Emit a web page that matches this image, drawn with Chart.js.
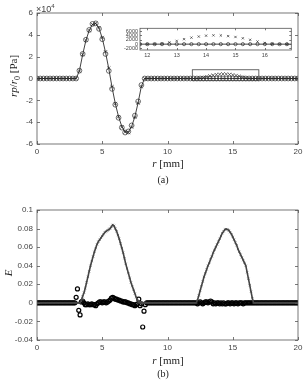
<!DOCTYPE html>
<html>
<head>
<meta charset="utf-8">
<script src="https://cdn.jsdelivr.net/npm/chart.js@4.4.0/dist/chart.umd.min.js"></script>
<style>
body { margin: 0; background: #fff; width: 307px; height: 381px; position: relative; overflow: hidden; font-family: "Liberation Serif", serif; color: #222; }
canvas { position: absolute; }
.t { position: absolute; white-space: nowrap; font-size: 11px; line-height: 1; }
.s { position: absolute; white-space: nowrap; font-family: "Liberation Sans", sans-serif; color: #444; line-height: 1; }
</style>
</head>
<body>
<canvas id="cA" width="307" height="190" style="left:0;top:0"></canvas>
<canvas id="cIn" width="184" height="38" style="left:112px;top:23px"></canvas>
<canvas id="cB" width="307" height="191" style="left:0;top:190px"></canvas>

<div class="s" style="left:36px;top:3px;font-size:9px">×10<sup style="font-size:6px;vertical-align:4px">4</sup></div>
<div class="t" style="left:15px;top:76px;transform:translate(-50%,-50%) rotate(-90deg)"><i>rp</i>/<i>r</i><sub style="font-size:8px">0</sub> [Pa]</div>
<div class="t" style="left:168px;top:163px;transform:translate(-50%,-50%)"><i>r</i> [mm]</div>
<div class="t" style="left:163px;top:180px;transform:translate(-50%,-50%);font-size:10px">(a)</div>
<div class="t" style="left:8px;top:273px;transform:translate(-50%,-50%) rotate(-90deg)"><i>E</i></div>
<div class="t" style="left:168px;top:360px;transform:translate(-50%,-50%)"><i>r</i> [mm]</div>
<div class="t" style="left:163px;top:374px;transform:translate(-50%,-50%);font-size:10px">(b)</div>

<script>
// (a) pressure, r step 0.25 mm, 0..20
const stepA = 0.25;
const pLine = [
    0, 0, 0, 0, 0, 0, 0, 0,
    0, 0, 0, 0, 0, 7000, 22000, 35000,
    44000, 49500, 50500, 46000, 37000, 24000, 9000, -8000,
    -23000, -35000, -44000, -49000, -49000, -44000, -35000, -22000,
    -7000, 0, 0, 0, 0, 0, 0, 0,
    0, 0, 0, 0, 0, 0, 0, 0,
    0, 0, 0, 0, 0, 0, 0, 0,
    0, 0, 0, 0, 0, 0, 0, 0,
    0, 0, 0, 0, 0, 0, 0, 0,
    0, 0, 0, 0, 0, 0, 0, 0,
    0
];
const pCirc = [
    0, 0, 0, 0, 0, 0, 0, 0,
    0, 0, 0, 0, 0, 7200, 22500, 35500,
    44500, 50000, 50500, 45500, 36000, 22500, 7000, -9500,
    -24000, -36000, -45000, -49500, -48500, -43000, -34000, -21000,
    -6000, 0, 0, 0, 0, 0, 0, 0,
    0, 0, 0, 0, 0, 0, 0, 0,
    0, 0, 0, 0, 0, 0, 0, 0,
    0, 0, 0, 0, 0, 0, 0, 0,
    0, 0, 0, 0, 0, 0, 0, 0,
    0, 0, 0, 0, 0, 0, 0, 0,
    0
];
const pCross = [
    0, 0, 0, 0, 0, 0, 0, 0,
    0, 0, 0, 0, 0, 6800, 22000, 35000,
    44000, 49500, 50500, 46500, 37500, 24500, 9500, -7500,
    -23000, -35000, -44500, -49000, -49500, -44500, -35500, -22500,
    -7500, 0, 0, 0, 0, 0, 0, 0,
    0, 0, 0, 0, 0, 0, 0, 0,
    0, 100, 300, 800, 1500, 2300, 3000, 3500,
    3900, 4050, 4000, 3700, 3300, 2700, 2000, 1200,
    500, 150, 0, 0, 0, 0, 0, 0,
    0, 0, 0, 0, 0, 0, 0, 0,
    0
];
const ticksA = [-60000, -40000, -20000, 0, 20000, 40000, 60000];
const ticksR = [0, 5, 10, 15, 20];
const insetX = [12, 13, 14, 15, 16];
const insetY = [-2000, 0, 2000, 4000, 6000];
const zoomBox = [11.9, 17.0, -2000, 8000];

// (b) energy, r step 0.1 mm, 0..20
const stepB = 0.1;
const eCross = [
    0, 0, 0, 0, 0, 0, 0, 0, 0, 0,
    0, 0, 0, 0, 0, 0, 0, 0, 0, 0,
    0, 0, 0, 0, 0, 0, 0, 0, 0, 0,
    0, 0, 0, 0, 0.003, 0.007, 0.011, 0.016, 0.022, 0.028,
    0.034, 0.040, 0.045, 0.050, 0.055, 0.059, 0.063, 0.066, 0.068, 0.070,
    0.072, 0.074, 0.076, 0.077, 0.078, 0.079, 0.080, 0.082, 0.084, 0.083,
    0.080, 0.077, 0.073, 0.069, 0.064, 0.059, 0.054, 0.048, 0.042, 0.037,
    0.032, 0.027, 0.022, 0.018, 0.014, 0.010, 0.006, 0.003, 0.001, 0,
    0, 0, 0, 0, 0, 0, 0, 0, 0, 0,
    0, 0, 0, 0, 0, 0, 0, 0, 0, 0,
    0, 0, 0, 0, 0, 0, 0, 0, 0, 0,
    0, 0, 0, 0, 0, 0, 0, 0, 0, 0,
    0, 0, 0, 0.003, 0.008, 0.013, 0.018, 0.023, 0.028, 0.032,
    0.036, 0.040, 0.043, 0.047, 0.050, 0.054, 0.057, 0.060, 0.063, 0.066,
    0.069, 0.072, 0.075, 0.077, 0.079, 0.0795, 0.079, 0.078, 0.076, 0.074,
    0.071, 0.068, 0.065, 0.062, 0.058, 0.055, 0.052, 0.049, 0.046, 0.043,
    0.040, 0.033, 0.026, 0.019, 0.012, 0.005, 0, 0, 0, 0,
    0, 0, 0, 0, 0, 0, 0, 0, 0, 0,
    0, 0, 0, 0, 0, 0, 0, 0, 0, 0,
    0, 0, 0, 0, 0, 0, 0, 0, 0, 0,
    0
];
const eCirc = [
    0, 0, 0, 0, 0, 0, 0, 0, 0, 0,
    0, 0, 0, 0, 0, 0, 0, 0, 0, 0,
    0, 0, 0, 0, 0, 0, 0, 0, 0, 0,
    0.006, 0.015, -0.008, -0.013, 0.001, 0.002, 0, -0.002, -0.002, -0.001,
    -0.002, -0.002, -0.001, -0.002, -0.002, -0.003, -0.001, 0, 0.001, 0.001,
    0, 0.001, 0.001, 0, 0.001, 0.002, 0.003, 0.005, 0.006, 0.005,
    0.004, 0.004, 0.003, 0.003, 0.002, 0.002, 0.001, 0.001, 0.001, 0,
    0, -0.001, -0.001, -0.002, -0.002, -0.003, -0.002, -0.001, 0.004, -0.003,
    -0.001, -0.026, -0.009, -0.002, 0, 0, 0, 0, 0, 0,
    0, 0, 0, 0, 0, 0, 0, 0, 0, 0,
    0, 0, 0, 0, 0, 0, 0, 0, 0, 0,
    0, 0, 0, 0, 0, 0, 0, 0, 0, 0,
    0, 0, 0, -0.001, 0, 0.001, 0, -0.001, 0, 0.001,
    0.001, 0, 0.001, 0.002, 0.001, -0.001, 0, -0.001, 0, 0,
    -0.001, 0, -0.001, 0, -0.001, -0.001, 0, 0, -0.001, 0,
    0, -0.001, 0, 0, -0.001, 0, 0, 0, -0.001, 0,
    0, 0, 0, 0, 0, 0, 0, 0, 0, 0,
    0, 0, 0, 0, 0, 0, 0, 0, 0, 0,
    0, 0, 0, 0, 0, 0, 0, 0, 0, 0,
    0, 0, 0, 0, 0, 0, 0, 0, 0, 0,
    0
];
const ticksB = [-0.04, -0.02, 0, 0.02, 0.04, 0.06, 0.08, 0.1];

const pts = (arr, step) => arr.map((v, i) => ({ x: +(i * step).toFixed(2), y: v }));

const axisCol = '#555';
const tickFont = { family: 'Liberation Sans', size: 8 };

// box around plot area + inward ticks on all 4 sides
const boxTicks = {
    id: 'boxTicks',
    beforeDraw(chart, args, o) {
        if (!o.fill) return;
        const a = chart.chartArea, ctx = chart.ctx;
        ctx.save();
        ctx.fillStyle = '#fff';
        ctx.fillRect(a.left, a.top, a.right - a.left, a.bottom - a.top);
        ctx.restore();
    },
    afterDraw(chart, args, o) {
        const { ctx, chartArea: a, scales: { x, y } } = chart;
        const L = o.len || 3;
        ctx.save();
        ctx.strokeStyle = axisCol;
        ctx.lineWidth = 0.8;
        ctx.strokeRect(a.left, a.top, a.right - a.left, a.bottom - a.top);
        ctx.beginPath();
        x.ticks.forEach(t => {
            const px = Math.round(x.getPixelForValue(t.value)) + 0.5;
            ctx.moveTo(px, a.bottom); ctx.lineTo(px, a.bottom - L);
            ctx.moveTo(px, a.top); ctx.lineTo(px, a.top + L);
        });
        y.ticks.forEach(t => {
            const py = Math.round(y.getPixelForValue(t.value)) + 0.5;
            ctx.moveTo(a.left, py); ctx.lineTo(a.left + L, py);
            ctx.moveTo(a.right, py); ctx.lineTo(a.right - L, py);
        });
        ctx.stroke();
        if (o.box) {
            const b = o.box;
            const x1 = x.getPixelForValue(b[0]), x2 = x.getPixelForValue(b[1]);
            const y1 = y.getPixelForValue(b[3]), y2 = y.getPixelForValue(b[2]);
            ctx.strokeStyle = '#444';
            ctx.strokeRect(x1, y1, x2 - x1, y2 - y1);
        }
        ctx.restore();
    }
};
Chart.register(boxTicks);

function xScale(min, max, vals, h, font, pad) {
    return {
        type: 'linear', min: min, max: max,
        grid: { display: false, drawTicks: false }, border: { display: false },
        afterBuildTicks: s => { s.ticks = vals.map(v => ({ value: v })); },
        afterFit: s => { s.height = h; },
        ticks: { font: font, color: '#444', padding: pad, maxRotation: 0, autoSkip: false }
    };
}
function yScale(min, max, vals, w, font, pad, fmt) {
    return {
        type: 'linear', min: min, max: max,
        grid: { display: false, drawTicks: false }, border: { display: false },
        afterBuildTicks: s => { s.ticks = vals.map(v => ({ value: v })); },
        afterFit: s => { s.width = w; },
        ticks: { font: font, color: '#444', padding: pad, callback: fmt, autoSkip: false }
    };
}

const base = {
    responsive: false,
    animation: false,
    events: [],
    plugins: { legend: { display: false }, tooltip: { enabled: false } }
};

function pressureSets(r) {
    return [
        { data: pts(pLine, stepA), showLine: true, borderColor: '#111', borderWidth: 0.8, pointRadius: 0 },
        { data: pts(pCirc, stepA), showLine: false, pointStyle: 'circle', pointRadius: r, borderColor: '#333', pointBorderWidth: 0.7, backgroundColor: 'rgba(0,0,0,0)' },
        { data: pts(pCross, stepA), showLine: false, pointStyle: 'crossRot', pointRadius: r, borderColor: '#333', pointBorderWidth: 0.7 }
    ];
}

new Chart(document.getElementById('cA'), {
    type: 'scatter',
    data: { datasets: pressureSets(2.4) },
    options: {
        ...base,
        layout: { padding: { top: 13, right: 9, left: 0, bottom: 0 } },
        plugins: { ...base.plugins, boxTicks: { box: zoomBox } },
        scales: {
            x: xScale(0, 20, ticksR, 46, tickFont, 3),
            y: yScale(-60000, 60000, ticksA, 37, tickFont, 4, v => String(v / 10000))
        }
    }
});

new Chart(document.getElementById('cIn'), {
    type: 'scatter',
    data: { datasets: pressureSets(1.6) },
    options: {
        ...base,
        layout: { padding: { top: 3, right: 4, left: 0, bottom: 0 } },
        plugins: { ...base.plugins, boxTicks: { fill: true, len: 2 } },
        scales: {
            x: xScale(11.75, 16.9, insetX, 11, { family: 'Liberation Sans', size: 5.5 }, 2),
            y: yScale(-2700, 7300, insetY, 28, { family: 'Liberation Sans', size: 5.5 }, 2, v => String(v))
        }
    }
});

new Chart(document.getElementById('cB'), {
    type: 'scatter',
    data: {
        datasets: [
            { data: pts(eCross, stepB), showLine: true, borderColor: '#444', borderWidth: 1.6, pointStyle: 'crossRot', pointRadius: 1.5, pointBorderColor: '#444', pointBorderWidth: 0.6 },
            { data: pts(eCirc, stepB), showLine: false, pointStyle: 'circle', pointRadius: 2, borderColor: '#000', pointBorderWidth: 1.2, backgroundColor: 'rgba(0,0,0,0)' }
        ]
    },
    options: {
        ...base,
        layout: { padding: { top: 20, right: 9, left: 0, bottom: 0 } },
        plugins: { ...base.plugins, boxTicks: {} },
        scales: {
            x: xScale(0, 20, ticksR, 41, tickFont, 3),
            y: yScale(-0.04, 0.1, ticksB, 37, tickFont, 4, v => String(+v.toFixed(2)))
        }
    }
});
</script>
</body>
</html>
